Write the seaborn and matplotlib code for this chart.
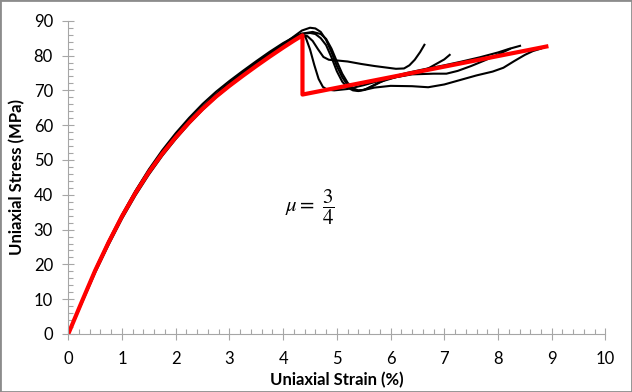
import numpy as np
import pandas as pd
import matplotlib
matplotlib.use('Agg')
import matplotlib.pyplot as plt
import matplotlib.patches as patches
from matplotlib.ticker import MultipleLocator
import seaborn as sns

# 数据
# 峰前段共用应变点
pre_strain = [0, 0.25, 0.5, 0.75, 1.0, 1.25, 1.5, 1.75, 2.0, 2.25, 2.5,
              2.75, 3.0, 3.25, 3.5, 3.75, 4.0]

# 模型曲线（红色）
red_strain = pre_strain + [4.2, 4.36, 4.36, 8.9]
red_stress = [0, 9.2, 18.2, 26.3, 33.8, 40.5, 46.5, 51.8, 56.5, 60.8, 64.7,
              68.2, 71.3, 74.2, 77.0, 79.7, 82.3, 84.3, 85.8, 68.8, 82.6]

# 实验曲线（黑色）
a_strain = pre_strain + [4.2, 4.35, 4.5, 4.6, 4.7, 4.8, 4.9, 5.0, 5.1, 5.2, 5.3,
                         5.4, 5.5, 5.7, 6.0, 6.4, 6.7, 7.0, 7.3, 7.6, 7.9, 8.1,
                         8.3, 8.5, 8.65, 8.8]
a_stress = [0, 9, 18, 26, 33.6, 40.4, 46.5, 51.9, 56.7, 61.1, 65.1, 68.7, 71.9,
            74.9, 77.8, 80.6, 83.2,
            85.5, 87.2, 88.0, 87.8, 86.8, 84.5, 81, 77, 73.8, 71.5, 70.3,
            69.9, 70.1, 70.8, 71.3, 71.2, 70.9, 71.7, 73.0, 74.3, 75.4, 76.5,
            78.4, 80.2, 81.3, 82.0]

b_strain = pre_strain + [4.2, 4.35, 4.45, 4.55, 4.65, 4.75, 4.85, 5.0, 5.2,
                         5.45, 5.7, 5.9, 6.1, 6.25, 6.35, 6.45, 6.55, 6.63]
b_stress = [0, 9.3, 18.5, 26.7, 34.2, 41, 47, 52.3, 57, 61.3, 65.2, 68.7, 71.8,
            74.7, 77.5, 80.2, 82.8,
            84.7, 85.8, 85.6, 84.2, 81.8, 79.6, 78.8, 78.6, 78.3, 77.6, 77.0,
            76.6, 76.2, 76.3, 77.2, 78.8, 81.0, 83.1]

c_strain = pre_strain + [4.2, 4.35, 4.42, 4.5, 4.58, 4.66, 4.74, 4.82, 4.95,
                         5.2, 5.5, 5.8, 6.1, 6.4, 6.7, 6.85, 7.0, 7.1]
c_stress = [0, 8.8, 17.6, 25.6, 33.1, 39.8, 45.8, 51.2, 56, 60.4, 64.4, 68,
            71.2, 74.2, 77.1, 79.9, 82.6,
            84.8, 86.3, 85.2, 81.8, 77.3, 73.3, 71.0, 70.2, 70.0, 70.4, 71.5,
            72.8, 73.8, 74.8, 76.3, 77.6, 78.9, 80.2]

d_strain = pre_strain + [4.2, 4.35, 4.5, 4.6, 4.7, 4.8, 4.9, 5.0, 5.1, 5.2, 5.3,
                         5.4, 5.55, 5.8, 6.1, 6.4, 6.8, 7.04, 7.25, 7.5, 7.75,
                         8.0, 8.22]
d_stress = [0, 9.1, 18.1, 26.2, 33.8, 40.6, 46.7, 52.1, 56.9, 61.3, 65.3, 68.9,
            72.1, 75.1, 78.0, 80.7, 83.3,
            85.2, 86.2, 86.5, 86.2, 85.0, 83.0, 79.5, 75.5, 72.5, 70.8, 70.0,
            69.8, 70.4, 72.4, 73.8, 74.6, 74.8, 74.8, 75.6, 77.0, 78.6, 80.3,
            81.9]

e_strain = pre_strain + [4.2, 4.35, 4.55, 4.7, 4.8, 4.9, 5.0, 5.1, 5.2, 5.3,
                         5.4, 5.5, 5.7, 6.0, 6.3, 6.6, 7.0, 7.3, 7.66, 8.0, 8.2,
                         8.41]
e_stress = [0, 9.2, 18.4, 26.6, 34.2, 41.1, 47.3, 52.8, 57.7, 62.1, 66.1, 69.6,
            72.7, 75.6, 78.4, 81.1, 83.6,
            85.3, 86.3, 86.8, 86.2, 84.8, 82.0, 78.3, 74.8, 72.2, 70.6, 70.0,
            70.1, 71.5, 73.8, 75.0, 76.0, 77.2, 78.2, 79.5, 80.9, 81.9, 82.8]

x_ticks = list(range(0, 11))
y_ticks = list(range(0, 100, 10))

plt.rcParams['font.family'] = ['Lato', 'DejaVu Sans']
plt.rcParams['mathtext.fontset'] = 'stix'

fig = plt.figure(figsize=(6.32, 3.92), dpi=100)
ax = fig.add_axes([0.108, 0.148, 0.85, 0.799])

curves = [(a_strain, a_stress), (b_strain, b_stress), (c_strain, c_stress),
          (d_strain, d_stress), (e_strain, e_stress)]
for xs, ys in curves:
    sns.lineplot(x=xs, y=ys, ax=ax, color='black', lw=1.5, sort=False,
                 estimator=None, solid_joinstyle='round')
sns.lineplot(x=red_strain, y=red_stress, ax=ax, color='#ff0000', lw=3,
             sort=False, estimator=None)

ax.set_xlim(0, 10)
ax.set_ylim(0, 90)
ax.set_xticks(x_ticks)
ax.set_yticks(y_ticks)
ax.xaxis.set_minor_locator(MultipleLocator(0.2))
ax.yaxis.set_minor_locator(MultipleLocator(2))
ax.tick_params(which='major', direction='inout', length=8, width=0.8,
               color='#a6a6a6', labelsize=12)
ax.tick_params(axis='x', which='major', pad=8)
ax.tick_params(axis='y', which='major', pad=7)
ax.tick_params(which='minor', direction='in', length=3.5, width=0.8,
               color='#a6a6a6')
for s in ['top', 'right']:
    ax.spines[s].set_visible(False)
for s in ['left', 'bottom']:
    ax.spines[s].set_color('#a6a6a6')
    ax.spines[s].set_linewidth(0.8)

ax.set_xlabel('Uniaxial Strain (%)', fontsize=12, fontweight='bold', labelpad=4)
ax.set_ylabel('Uniaxial Stress (MPa)', fontsize=12, fontweight='bold', labelpad=6)

ax.text(4.5, 36.5, r'$\mu =\ \dfrac{3}{4}$', fontsize=15, ha='center', va='center')

fig.patches.append(patches.Rectangle((0, 0), 1, 1, transform=fig.transFigure,
                                     fill=False, edgecolor='#8c8c8c', lw=2))

plt.savefig('out.png', dpi=100)
